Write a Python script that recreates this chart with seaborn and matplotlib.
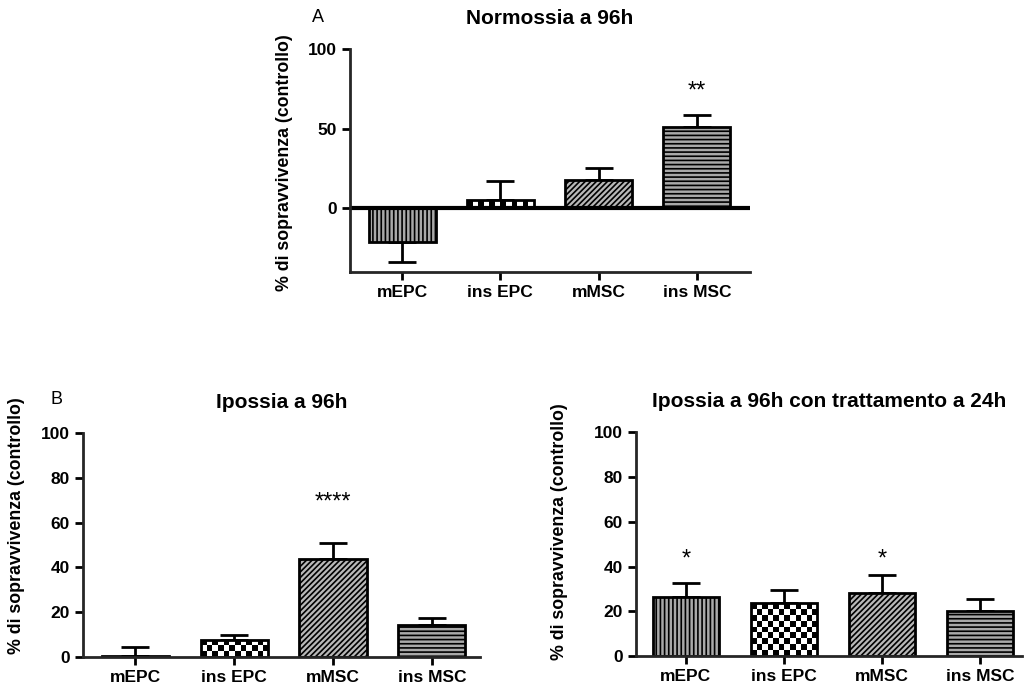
import numpy as np
import matplotlib
matplotlib.use("Agg")
import matplotlib.pyplot as plt
import seaborn as sns

# =====================================================
# DATA
# =====================================================
categories = ["mEPC", "ins EPC", "mMSC", "ins MSC"]

normo_mean = [-21.0, 5.0, 17.7, 50.8]
normo_err = [13.0, 12.0, 7.3, 7.5]
normo_stars = ["", "", "", "**"]

ipo_mean = [0.5, 7.6, 43.8, 14.3]
ipo_err = [4.0, 2.4, 6.9, 3.1]
ipo_stars = ["", "", "****", ""]

ipo24_mean = [26.5, 23.5, 28.1, 20.1]
ipo24_err = [6.3, 6.0, 7.9, 5.5]
ipo24_stars = ["*", "", "*", ""]

ylabel = "% di sopravvivenza (controllo)"

# =====================================================
# STYLE
# =====================================================
sns.set_style("ticks")
plt.rcParams["font.family"] = ["Liberation Sans", "DejaVu Sans"]
plt.rcParams["hatch.linewidth"] = 1.2
plt.rcParams["hatch.color"] = "black"
plt.rcParams["text.color"] = "black"
plt.rcParams["axes.labelcolor"] = "black"

hatches = ["||||", "checker", "//////", "----"]
faces = ["#a9a9a9", "white", "#b8b8b8", "#a9a9a9"]


def add_checker(ax, patch, cell_px=5.6):
    # checkerboard fill, clipped to the bar
    x0, y0 = patch.get_x(), patch.get_y()
    x1, y1 = x0 + patch.get_width(), y0 + patch.get_height()
    p0 = ax.transData.transform((x0, y0))
    p1 = ax.transData.transform((x1, y1))
    nx = max(1, int(round(abs(p1[0] - p0[0]) / cell_px)))
    ny = max(1, int(round(abs(p1[1] - p0[1]) / cell_px)))
    img = np.indices((ny, nx)).sum(axis=0) % 2
    im = ax.imshow(img, cmap="gray", extent=[x0, x1, min(y0, y1), max(y0, y1)],
                   interpolation="nearest", aspect="auto", zorder=0.9)
    im.set_clip_path(patch)
    patch.set_facecolor("none")


def draw_panel(ax, means, errs, stars, ylim, yticks, xlim, star_y, title):
    ax.set_xlim(*xlim)
    ax.set_ylim(*ylim)
    sns.barplot(x=categories, y=means, ax=ax, color="white", saturation=1,
                edgecolor="black", linewidth=2, width=0.68, errorbar=None)
    ax.set_xlim(*xlim)
    ax.set_ylim(*ylim)

    lower = [e if m < 0 else 0 for m, e in zip(means, errs)]
    upper = [0 if m < 0 else e for m, e in zip(means, errs)]
    ax.errorbar(range(len(categories)), means, yerr=[lower, upper], fmt="none",
                ecolor="black", elinewidth=2, capsize=10, capthick=2, zorder=0.5)

    for patch, h, fc in zip(ax.patches, hatches, faces):
        if h == "checker":
            add_checker(ax, patch)
        else:
            patch.set_facecolor(fc)
            patch.set_hatch(h)
    ax.set_xlim(*xlim)
    ax.set_ylim(*ylim)

    for i, s in enumerate(stars):
        if s:
            ax.text(i, star_y, s, ha="center", va="center", fontsize=17)

    ax.set_yticks(yticks)
    ax.set_title(title, fontsize=15, fontweight="bold", pad=18)
    ax.set_ylabel(ylabel, fontsize=12.8, fontweight="bold")
    ax.set_xlabel("")
    sns.despine(ax=ax)
    for sp in ["left", "bottom"]:
        ax.spines[sp].set_linewidth(2)
    ax.tick_params(axis="both", direction="out", length=6, width=2,
                   labelsize=12.5, colors="black")
    for lab in ax.get_xticklabels() + ax.get_yticklabels():
        lab.set_fontweight("bold")


# =====================================================
# FIGURE
# =====================================================
fig = plt.figure(figsize=(10.24, 6.87), dpi=100)

ax_a = fig.add_axes([0.3418, 0.6041, 0.3906, 0.3246])
draw_panel(ax_a, normo_mean, normo_err, normo_stars, (-40, 100), [0, 50, 100],
           (-0.53, 3.54), 73, "Normossia a 96h")
ax_a.axhline(0, color="black", lw=3, zorder=2)
ax_a.yaxis.set_label_coords(-0.1425, 0.49)

ax_b = fig.add_axes([0.081, 0.0437, 0.388, 0.326])
draw_panel(ax_b, ipo_mean, ipo_err, ipo_stars, (0, 100), [0, 20, 40, 60, 80, 100],
           (-0.53, 3.49), 69, "Ipossia a 96h")
ax_b.yaxis.set_label_coords(-0.146, 0.585)

ax_c = fig.add_axes([0.621, 0.0451, 0.377, 0.3256])
draw_panel(ax_c, ipo24_mean, ipo24_err, ipo24_stars, (0, 100), [0, 20, 40, 60, 80, 100],
           (-0.51, 3.43), 43, "Ipossia a 96h con trattamento a 24h")
ax_c.yaxis.set_label_coords(-0.176, 0.555)

fig.text(318 / 1024, 1 - 17 / 687, "A", fontsize=13, ha="center", va="center")
fig.text(57 / 1024, 1 - 400 / 687, "B", fontsize=13, ha="center", va="center")

fig.savefig("out.png", dpi=100)
